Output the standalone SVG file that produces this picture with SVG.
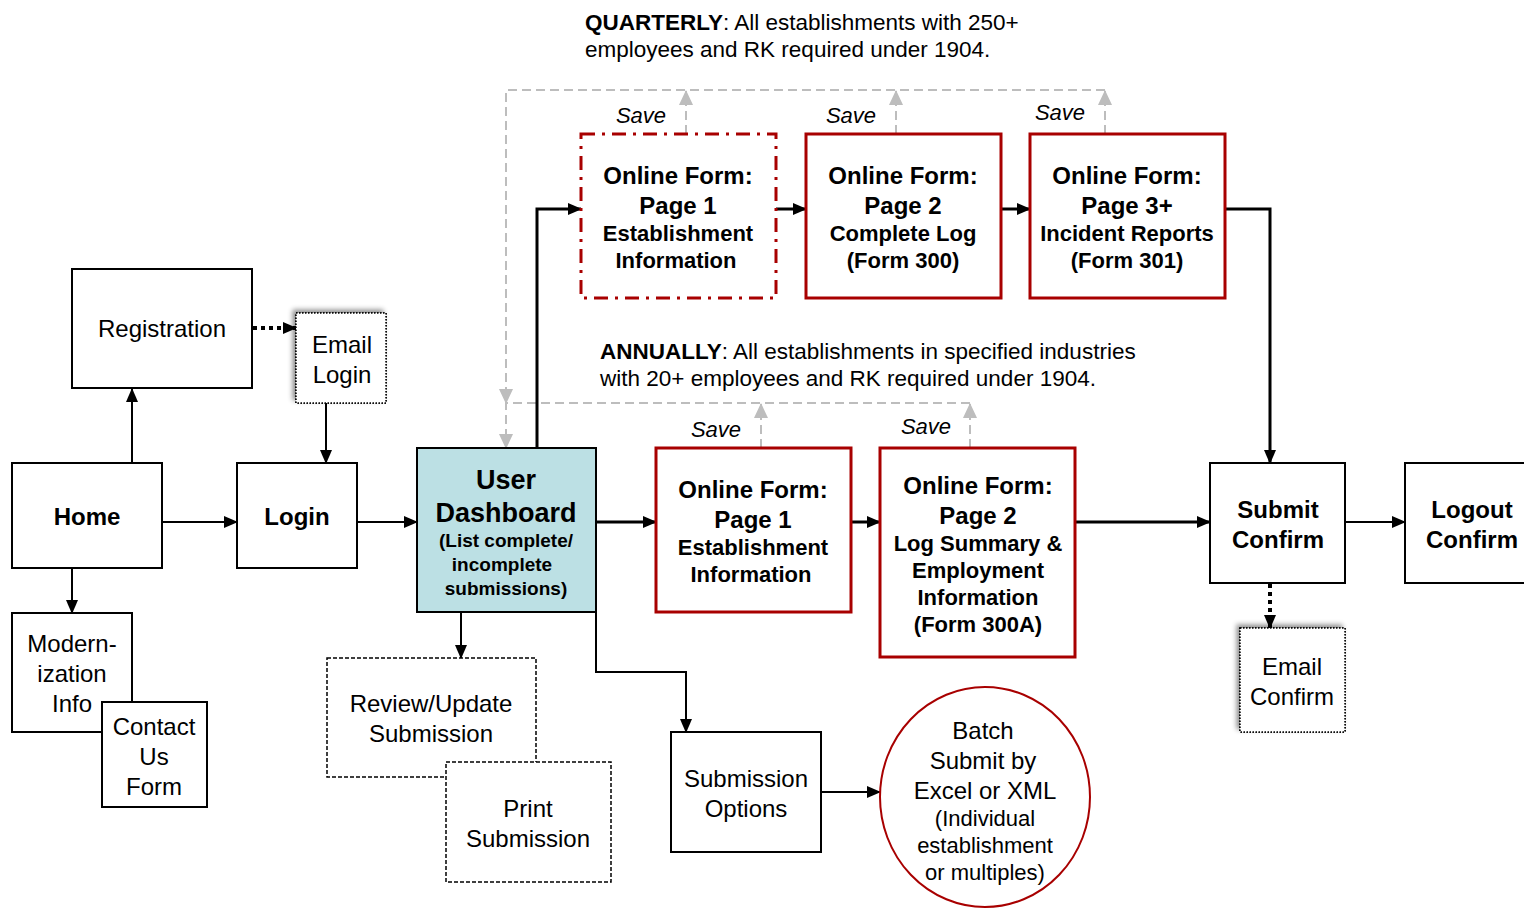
<svg xmlns="http://www.w3.org/2000/svg" width="1524" height="909" viewBox="0 0 1524 909">
<defs>
<marker id="ah" markerWidth="14" markerHeight="12" refX="13" refY="6" orient="auto" markerUnits="userSpaceOnUse"><path d="M0,0 L14,6 L0,12 Z" fill="#000"/></marker>
<marker id="ahg" markerWidth="15" markerHeight="14" refX="14" refY="7" orient="auto" markerUnits="userSpaceOnUse"><path d="M0,0 L15,7 L0,14 Z" fill="#bdbdbd"/></marker>
<filter id="sh" x="-20%" y="-20%" width="140%" height="140%"><feDropShadow dx="-3" dy="-3" stdDeviation="2.5" flood-color="#000" flood-opacity="0.45"/></filter>
</defs>
<style>
text{font-family:"Liberation Sans",Arial,sans-serif;fill:#000;text-anchor:middle}
.box{fill:#fff;stroke:#000;stroke-width:2}
.red{fill:#fff;stroke:#a80000;stroke-width:3}
.dash{fill:#fff;stroke:#000;stroke-width:1.5;stroke-dasharray:4 2}
.dot{fill:#fff;stroke:#000;stroke-width:1.5;stroke-dasharray:1.5 1.5}
.c{fill:none;stroke:#000;stroke-width:2}
.ct{fill:none;stroke:#000;stroke-width:3}
.g{fill:none;stroke:#bdbdbd;stroke-width:2;stroke-dasharray:9 5}
.r{font-size:24px}
.b{font-weight:bold}
.sv{font-size:22px;font-style:italic}
.note{font-size:22.5px;text-anchor:start}
</style>

<g id="notes">
<text class="note" x="585" y="30"><tspan font-weight="bold">QUARTERLY</tspan>: All establishments with 250+</text>
<text class="note" x="585" y="57">employees and RK required under 1904.</text>
<text class="note" x="600" y="359"><tspan font-weight="bold">ANNUALLY</tspan>: All establishments in specified industries</text>
<text class="note" x="600" y="386">with 20+ employees and RK required under 1904.</text>
<text class="sv" x="641" y="123">Save</text>
<text class="sv" x="851" y="123">Save</text>
<text class="sv" x="1060" y="120">Save</text>
<text class="sv" x="716" y="437">Save</text>
<text class="sv" x="926" y="434">Save</text>
</g>

<g id="connectors">
<path class="g" d="M686,134 V91" marker-end="url(#ahg)"/>
<path class="g" d="M896,134 V91" marker-end="url(#ahg)"/>
<path class="g" d="M1105,134 V91" marker-end="url(#ahg)"/>
<path class="g" d="M1105,90 H506 V403" marker-end="url(#ahg)"/>
<path class="g" d="M761,448 V404" marker-end="url(#ahg)"/>
<path class="g" d="M970,448 V404" marker-end="url(#ahg)"/>
<path class="g" d="M970,403 H506 V448" marker-end="url(#ahg)"/>

<path class="c" d="M132,463 V389" marker-end="url(#ah)"/>
<path d="M253,328 H296" fill="none" stroke="#000" stroke-width="4" stroke-dasharray="4 4" marker-end="url(#ah)"/>
<path class="c" d="M326,403 V463" marker-end="url(#ah)"/>
<path class="c" d="M162,522 H237" marker-end="url(#ah)"/>
<path class="c" d="M357,522 H417" marker-end="url(#ah)"/>
<path class="c" d="M72,568 V613" marker-end="url(#ah)"/>
<path class="c" d="M461,612 V658" marker-end="url(#ah)"/>
<path class="c" d="M596,612 V672 H686 V732" marker-end="url(#ah)"/>
<path class="c" d="M821,792 H880" marker-end="url(#ah)"/>
<path class="ct" d="M596,522 H656" marker-end="url(#ah)"/>
<path class="ct" d="M851,522 H880" marker-end="url(#ah)"/>
<path class="ct" d="M1075,522 H1210" marker-end="url(#ah)"/>
<path class="ct" d="M537,448 V209 H581" marker-end="url(#ah)"/>
<path class="ct" d="M776,209 H806" marker-end="url(#ah)"/>
<path class="ct" d="M1001,209 H1030" marker-end="url(#ah)"/>
<path class="ct" d="M1225,209 H1270 V463" marker-end="url(#ah)"/>
<path class="c" d="M1345,522 H1405" marker-end="url(#ah)"/>
<path d="M1270,584 V628" fill="none" stroke="#000" stroke-width="4" stroke-dasharray="4 4" marker-end="url(#ah)"/>
</g>

<g id="registration"><rect class="box" x="72" y="269" width="180" height="119"/><text class="r" x="162" y="337">Registration</text></g>
<g id="email-login"><rect class="dot" x="296" y="313" width="90" height="90" filter="url(#sh)"/><rect class="dot" x="296" y="313" width="90" height="90"/><text class="r" x="342" y="353">Email</text><text class="r" x="342" y="383">Login</text></g>
<g id="home"><rect class="box" x="12" y="463" width="150" height="105"/><text class="r b" x="87" y="525">Home</text></g>
<g id="login"><rect class="box" x="237" y="463" width="120" height="105"/><text class="r b" x="297" y="525">Login</text></g>
<g id="dashboard"><rect x="417" y="448" width="179" height="164" fill="#bce0e4" stroke="#000" stroke-width="2"/>
<text class="b" x="506" y="489" font-size="27">User</text>
<text class="b" x="506" y="522" font-size="27">Dashboard</text>
<text class="b" x="506" y="547" font-size="19">(List complete/</text>
<text class="b" x="502" y="571" font-size="19">incomplete</text>
<text class="b" x="506" y="595" font-size="19">submissions)</text></g>
<g id="modernization"><rect class="box" x="12" y="613" width="120" height="119"/><text class="r" x="72" y="652">Modern-</text><text class="r" x="72" y="682">ization</text><text class="r" x="72" y="712">Info</text></g>
<g id="contact"><rect class="box" x="102" y="702" width="105" height="105"/><text class="r" x="154" y="735">Contact</text><text class="r" x="154" y="765">Us</text><text class="r" x="154" y="795">Form</text></g>
<g id="review"><rect class="dash" x="327" y="658" width="209" height="119"/><text class="r" x="431" y="712">Review/Update</text><text class="r" x="431" y="742">Submission</text></g>
<g id="print"><rect class="dash" x="446" y="762" width="165" height="120"/><text class="r" x="528" y="817">Print</text><text class="r" x="528" y="847">Submission</text></g>
<g id="submission-options"><rect class="box" x="671" y="732" width="150" height="120"/><text class="r" x="746" y="787">Submission</text><text class="r" x="746" y="817">Options</text></g>
<g id="batch"><ellipse cx="985" cy="797" rx="105" ry="110" fill="#fff" stroke="#a80000" stroke-width="2"/>
<text class="r" x="983" y="739">Batch</text>
<text class="r" x="983" y="769">Submit by</text>
<text class="r" x="985" y="799">Excel or XML</text>
<text x="985" y="826" font-size="22">(Individual</text>
<text x="985" y="853" font-size="22">establishment</text>
<text x="985" y="880" font-size="22">or multiples)</text></g>

<g id="q-page1"><rect x="581" y="134" width="195" height="164" fill="#fff" stroke="#a80000" stroke-width="3" stroke-dasharray="14 7 3 7"/>
<text class="b" x="678" y="184" font-size="24">Online Form:</text><text class="b" x="678" y="214" font-size="24">Page 1</text>
<text class="b" x="678" y="241" font-size="22">Establishment</text><text class="b" x="676" y="268" font-size="22">Information</text></g>
<g id="q-page2"><rect class="red" x="806" y="134" width="195" height="164"/>
<text class="b" x="903" y="184" font-size="24">Online Form:</text><text class="b" x="903" y="214" font-size="24">Page 2</text>
<text class="b" x="903" y="241" font-size="22">Complete Log</text><text class="b" x="903" y="268" font-size="22">(Form 300)</text></g>
<g id="q-page3"><rect class="red" x="1030" y="134" width="195" height="164"/>
<text class="b" x="1127" y="184" font-size="24">Online Form:</text><text class="b" x="1127" y="214" font-size="24">Page 3+</text>
<text class="b" x="1127" y="241" font-size="22">Incident Reports</text><text class="b" x="1127" y="268" font-size="22">(Form 301)</text></g>

<g id="a-page1"><rect class="red" x="656" y="448" width="195" height="164"/>
<text class="b" x="753" y="498" font-size="24">Online Form:</text><text class="b" x="753" y="528" font-size="24">Page 1</text>
<text class="b" x="753" y="555" font-size="22">Establishment</text><text class="b" x="751" y="582" font-size="22">Information</text></g>
<g id="a-page2"><rect class="red" x="880" y="448" width="195" height="209"/>
<text class="b" x="978" y="494" font-size="24">Online Form:</text><text class="b" x="978" y="524" font-size="24">Page 2</text>
<text class="b" x="978" y="551" font-size="22">Log Summary &amp;</text><text class="b" x="978" y="578" font-size="22">Employment</text>
<text class="b" x="978" y="605" font-size="22">Information</text><text class="b" x="978" y="632" font-size="22">(Form 300A)</text></g>

<g id="submit-confirm"><rect class="box" x="1210" y="463" width="135" height="120"/><text class="r b" x="1278" y="518">Submit</text><text class="r b" x="1278" y="548">Confirm</text></g>
<g id="logout-confirm"><rect class="box" x="1405" y="463" width="140" height="120"/><text class="r b" x="1472" y="518">Logout</text><text class="r b" x="1472" y="548">Confirm</text></g>
<g id="email-confirm"><rect class="dot" x="1240" y="628" width="105" height="104" filter="url(#sh)"/><rect class="dot" x="1240" y="628" width="105" height="104"/><text class="r" x="1292" y="675">Email</text><text class="r" x="1292" y="705">Confirm</text></g>
</svg>
